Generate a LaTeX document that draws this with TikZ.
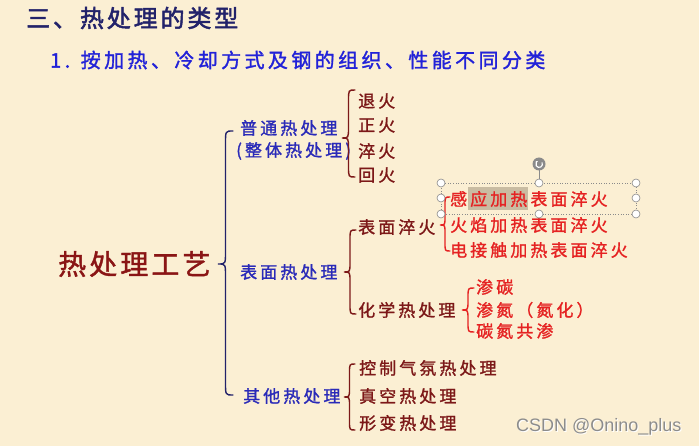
\documentclass[tikz,border=0pt]{standalone}
\usepackage{fontspec}
\usetikzlibrary{arrows.meta}
\newfontfamily\cjkT[LetterSpace=12,FakeBold=2]{Noto Sans CJK SC}
\newfontfamily\cjkS[LetterSpace=17,FakeBold=1.5]{Noto Sans CJK SC}
\newfontfamily\cjkM[LetterSpace=11,FakeBold=1.5]{Noto Sans CJK SC}
\newfontfamily\cjkI[LetterSpace=18,FakeBold=1.3]{Noto Sans CJK SC}
\newfontfamily\wmfont{Liberation Sans}
\definecolor{bg}{HTML}{FBEFD3}
\definecolor{navy}{HTML}{22226A}
\definecolor{subblue}{HTML}{2222D8}
\definecolor{lvblue}{HTML}{2A2AB8}
\definecolor{darkred}{HTML}{8A1515}
\definecolor{itemred}{HTML}{7C1818}
\definecolor{brightred}{HTML}{E52222}
\definecolor{hl}{HTML}{C9BCA2}
\definecolor{handle}{HTML}{8A8A8A}
\newcommand\BraceL[6]{% color, x, top, tip, bottom, width
  \draw[#1,line width=1.4pt,line cap=round]
    ({#2+#6},#3) .. controls ({#2+#6/2},#3) .. ({#2+#6/2},{#3+#6*0.8})
    -- ({#2+#6/2},{#4-#6*0.8}) .. controls ({#2+#6/2},#4) .. (#2,#4)
    .. controls ({#2+#6/2},#4) .. ({#2+#6/2},{#4+#6*0.8})
    -- ({#2+#6/2},{#5-#6*0.8}) .. controls ({#2+#6/2},#5) .. ({#2+#6},#5);}
\tikzset{
  txt/.style={inner sep=0pt, anchor=west},
  ttl/.style={txt, text=navy, font=\cjkT\fontsize{24}{24}\selectfont},
  sbt/.style={txt, text=subblue, font=\cjkS\fontsize{20}{20}\selectfont},
  mainbox/.style={txt, text=darkred, font=\cjkM\fontsize{28}{28}\selectfont},
  lvone/.style={txt, text=lvblue, font=\cjkI\fontsize{17}{17}\selectfont},
  lvtwo/.style={txt, text=itemred, font=\cjkI\fontsize{17}{17}\selectfont},
  lvred/.style={txt, text=brightred, font=\cjkI\fontsize{17}{17}\selectfont},
  hdl/.style={circle, draw=handle, fill=white, line width=0.6pt, minimum size=8pt, inner sep=0pt},
}
\begin{document}
\begin{tikzpicture}[x=1pt,y=-1pt]
\useasboundingbox (0,0) rectangle (699,446);
\fill[bg] (0,0) rectangle (699,446);
% titles
\node[ttl] (title) at (26,18) {三、热处理的类型};
\node[sbt] (sub) at (50,60) {1. 按加热、冷却方式及钢的组织、性能不同分类};
% main
\node[mainbox] (main) at (58,264) {热处理工艺};
\BraceL{navy}{218}{131}{264}{395}{15}
% level one
\node[lvone] (putong) at (240,128) {普通热处理};
\node[lvone] (zhengti) at (236,151) {(整体热处理)};
\node[lvone] (biaomian) at (240,272) {表面热处理};
\node[lvone] (qita) at (243,396) {其他热处理};
% brace 1
\BraceL{itemred}{342}{90}{138}{177}{13}
\node[lvtwo] (tuihuo) at (358,101) {退火};
\node[lvtwo] (zhenghuo) at (358,125) {正火};
\node[lvtwo] (cuihuo) at (358,151) {淬火};
\node[lvtwo] (huihuo) at (358,175) {回火};
% brace 2
\BraceL{itemred}{344}{230}{272}{314}{12}
\node[lvtwo] (bmch) at (358,227) {表面淬火};
\node[lvtwo] (hxrcl) at (358,310) {化学热处理};
% selection box and highlight
\fill[hl] (468,187) rectangle (528,210);
\draw[handle, dotted, line width=0.6pt] (441,183) rectangle (636,214);
\draw[handle, line width=0.8pt] (539,183) -- (539,170);
\node[circle, fill=handle, minimum size=13pt, inner sep=0pt] (rot) at (539,164) {};
\draw[white, line width=1.1pt, -{Stealth[length=2.5pt]}] (rot.center) ++(3,-1.5) arc[start angle=-30, end angle=250, radius=3.3];
\BraceL{brightred}{440}{197}{225}{251}{10}
\node[lvred] (ganying) at (450,199) {感应加热表面淬火};
\node[lvred] (huoyan) at (450,225) {火焰加热表面淬火};
\node[lvred] (dianjie) at (450,250) {电接触加热表面淬火};
\foreach \hx/\hy in {441/183,539/183,636/183,441/198,636/198,441/214,539/214,636/214}
  \node[hdl] at (\hx,\hy) {};
% brace chem
\BraceL{brightred}{462}{288}{310}{332}{12}
\node[lvred] (shentan) at (476,287) {渗碳};
\node[lvred] (shendan) at (476,310) {渗氮（氮化）};
\node[lvred] (tandan) at (476,331) {碳氮共渗};
% brace 3
\BraceL{itemred}{344}{364}{397}{430}{11}
\node[lvtwo] (kongzhi) at (359,368) {控制气氛热处理};
\node[lvtwo] (zhenkong) at (359,396) {真空热处理};
\node[lvtwo] (xingbian) at (359,423) {形变热处理};
% watermark
\node[txt, text=white, font=\wmfont\fontsize{18}{18}\selectfont] at (516.8,427.8) {CSDN @Onino\_plus};
\node[txt, text=black!45, font=\wmfont\fontsize{18}{18}\selectfont] (wm) at (516,427) {CSDN @Onino\_plus};
\end{tikzpicture}
\end{document}
